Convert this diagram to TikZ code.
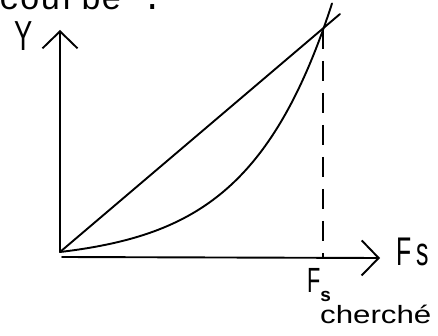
\documentclass[tikz,border=0pt]{standalone}
\usepackage{fontspec}
\setmainfont{Liberation Sans}
\newfontfamily\typew{Liberation Mono}
\usetikzlibrary{arrows.meta}
\begin{document}
\begin{tikzpicture}[x=1pt,y=-1pt,
  ink/.style={line width=1.9pt, black, line cap=round},
  chev/.style={-{Straight Barb[length=17pt,width=35pt,line width=1.9pt]}},
  dashline/.style={line width=1.9pt, dash pattern=on 20pt off 12pt}]
\useasboundingbox (0,0) rectangle (438,336);
% title text (clipped at top)
\node[anchor=base west, inner sep=0pt, font=\typew\fontsize{34}{34}\selectfont] (title) at (-1,10) {courbe .};
% axes
\coordinate (O) at (60,252);
\coordinate (Ytop) at (60,30);
\coordinate (Xstart) at (62,257);
\coordinate (Xend) at (380,258);
\draw[ink, chev] (O) -- (Ytop);
\draw[ink, chev] (Xstart) -- (Xend);
% straight line and curve
\coordinate (Lend) at (340,14);
\draw[ink] (O) -- (Lend);
\draw[ink] plot[domain=0:272, samples=90, smooth] ({60+\x},{252-9.9*(exp(0.012*\x)-1)});
% dashed vertical
\coordinate (Dtop) at (323,29);
\coordinate (Dbot) at (323,257);
\draw[dashline] (Dtop) -- (Dbot);
% labels
\node[inner sep=0pt, font=\fontsize{42}{42}\selectfont] (ylab) at (24,36) {\scalebox{0.65}[1]{Y}};
\node[anchor=base west, inner sep=0pt, font=\fontsize{40}{40}\selectfont] (xlab) at (396,265) {\scalebox{0.62}[1]{F\hspace{9pt}s}};
\node[anchor=base west, inner sep=0pt, font=\fontsize{35}{35}\selectfont] (fs) at (307,292) {\scalebox{0.62}[1]{F}\raisebox{-9pt}{\fontsize{19}{19}\selectfont\bfseries s}};
\node[anchor=base west, inner sep=0pt, font=\fontsize{25}{25}\selectfont] (ch) at (320,323) {\scalebox{1.25}[1]{cherché}};
\end{tikzpicture}
\end{document}
